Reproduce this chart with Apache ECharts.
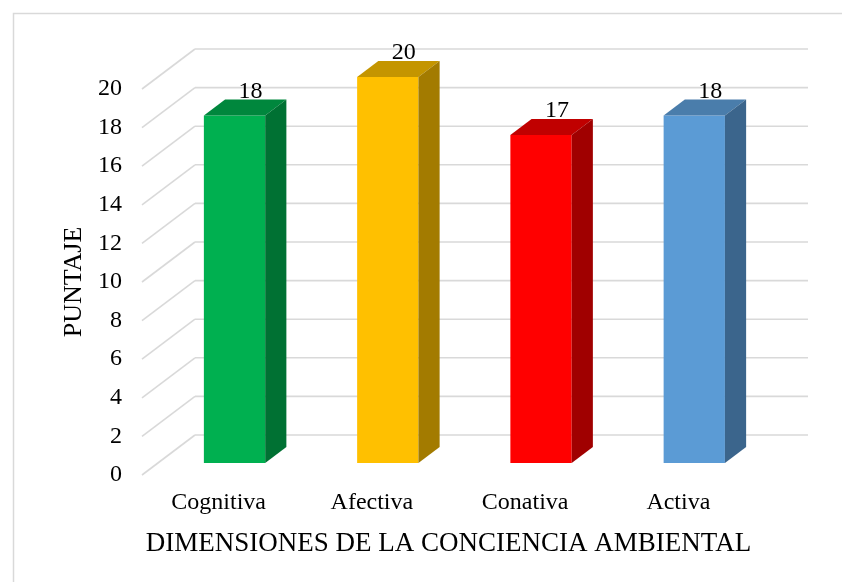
<!DOCTYPE html>
<html><head><meta charset="utf-8">
<script src="https://cdn.jsdelivr.net/npm/echarts@6/dist/echarts.min.js"></script>
<style>html,body{margin:0;padding:0;background:#fff}#c{width:842px;height:582px}</style>
</head><body><div id="c"></div>
<script>
const categories = ['Cognitiva', 'Afectiva', 'Conativa', 'Activa'];
const values = [18, 20, 17, 18];
const yTicks = [0, 2, 4, 6, 8, 10, 12, 14, 16, 18, 20];
const xTitle = 'DIMENSIONES DE LA CONCIENCIA AMBIENTAL';
const yTitle = 'PUNTAJE';

const frontColors = ['#00B050', '#FFC000', '#FF0000', '#5B9BD5'];
const topColors = ['#00873D', '#C49500', '#C00000', '#4A7DAB'];
const sideColors = ['#007133', '#A37B00', '#A00000', '#3B658C'];

const DX = 53, DY = -40;      // depth vector of the 3D box (pixels)
const FRONT = 0.3, BACK = 0.7; // bar depth fractions
const FONT = 'Liberation Serif';

const chart = echarts.init(document.getElementById('c'));

function gridItem(params, api) {
  const cs = params.coordSys;
  const y = api.coord([0, api.value(1)])[1];
  const x0 = cs.x, x1 = cs.x + cs.width;
  const st = { stroke: '#D9D9D9', lineWidth: 1.6 };
  return {
    type: 'group',
    children: [
      { type: 'line', shape: { x1: x0, y1: y, x2: x0 + DX, y2: y + DY }, style: st },
      { type: 'line', shape: { x1: x0 + DX, y1: y + DY, x2: x1 + DX, y2: y + DY }, style: st }
    ]
  };
}

function barItem(params, api) {
  const i = params.dataIndex;
  const base = api.coord([api.value(0), 0]);
  const top = api.coord([api.value(0), api.value(1)]);
  const band = api.size([1, 0])[0];
  const w = band * 0.4;
  const fx = base[0] - w / 2 + DX * FRONT;
  const fyB = base[1] + DY * FRONT;
  const fyT = top[1] + DY * FRONT;
  const ddx = DX * (BACK - FRONT), ddy = DY * (BACK - FRONT);
  return {
    type: 'group',
    children: [
      { type: 'rect', shape: { x: fx, y: fyT, width: w, height: fyB - fyT },
        style: { fill: frontColors[i] } },
      { type: 'polygon', shape: { points: [[fx, fyT], [fx + w, fyT], [fx + w + ddx, fyT + ddy], [fx + ddx, fyT + ddy]] },
        style: { fill: topColors[i] } },
      { type: 'polygon', shape: { points: [[fx + w, fyT], [fx + w + ddx, fyT + ddy], [fx + w + ddx, fyB + ddy], [fx + w, fyB]] },
        style: { fill: sideColors[i] } },
      { type: 'text', x: fx + w / 2 + 16, y: fyT - 24,
        style: { text: String(api.value(1)), fill: '#000', font: '24px "' + FONT + '"', align: 'center', verticalAlign: 'middle' } }
    ]
  };
}

chart.setOption({
  animation: false,
  backgroundColor: '#fff',
  graphic: [{
    type: 'rect', shape: { x: 13.5, y: 13.5, width: 900, height: 700 },
    style: { fill: 'none', stroke: '#D9D9D9', lineWidth: 1.5 }, z: -10, silent: true
  }],
  grid: { left: 142, right: 87, top: 89, bottom: 107 },
  xAxis: {
    type: 'category', data: categories,
    axisLine: { show: false }, axisTick: { show: false },
    axisLabel: { fontFamily: FONT, fontSize: 24, color: '#000', margin: 16 },
    name: xTitle, nameLocation: 'middle', nameGap: 55,
    nameTextStyle: { fontFamily: FONT, fontSize: 27, color: '#000' }
  },
  yAxis: {
    type: 'value', min: 0, max: 20, interval: 2,
    axisLine: { show: false }, axisTick: { show: false }, splitLine: { show: false },
    axisLabel: { fontFamily: FONT, fontSize: 24, color: '#000', margin: 20 },
    name: yTitle, nameLocation: 'middle', nameGap: 54,
    nameTextStyle: { fontFamily: FONT, fontSize: 26, color: '#000' }
  },
  series: [
    { type: 'custom', renderItem: gridItem, data: yTicks.map(v => [0, v]), encode: { x: 0, y: 1 }, z: 1, silent: true },
    { type: 'custom', renderItem: barItem, data: values.map((v, i) => [i, v]), encode: { x: 0, y: 1 }, z: 2 }
  ]
});
</script></body></html>
